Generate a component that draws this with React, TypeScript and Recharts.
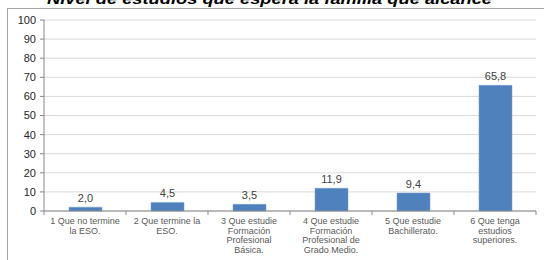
import React from "react";
import { BarChart, Bar, XAxis, YAxis, CartesianGrid, LabelList } from "recharts";

const categoryLines: string[][] = [
  ["1 Que no termine", "la ESO."],
  ["2 Que termine la", "ESO."],
  ["3 Que estudie", "Formación", "Profesional", "Básica."],
  ["4 Que estudie", "Formación", "Profesional de", "Grado Medio."],
  ["5 Que estudie", "Bachillerato."],
  ["6 Que tenga", "estudios", "superiores."],
];
const values: number[] = [2.0, 4.5, 3.5, 11.9, 9.4, 65.8];
const yTicks: number[] = [0, 10, 20, 30, 40, 50, 60, 70, 80, 90, 100];
const title = "Nivel de estudios que espera la familia que alcance";

const data = categoryLines.map((lines, i) => ({
  name: lines.join(" "),
  idx: i,
  value: values[i],
}));

const XTick = (props: any) => {
  const { x, y, index, width, visibleTicksCount } = props;
  const bw = width / visibleTicksCount;
  const lines = categoryLines[index] || [];
  return (
    <g>
      <line x1={x + bw / 2} x2={x + bw / 2} y1={y - 8} y2={y - 4} stroke="#868686" />
      {index === 0 && (
        <line x1={x - bw / 2} x2={x - bw / 2} y1={y - 8} y2={y - 4} stroke="#868686" />
      )}
      <text x={x} y={y} textAnchor="middle" fontSize={9} fill="#595959" fontFamily="Arial, 'Liberation Sans', sans-serif">
        {lines.map((l, k) => (
          <tspan key={k} x={x} dy={k === 0 ? 5 : 9.7}>
            {l}
          </tspan>
        ))}
      </text>
    </g>
  );
};

export default function App() {
  return (
    <div style={{ position: "absolute", left: 0, top: 0, width: 544, height: 260, overflow: "hidden", background: "#fff" }}>
      <div
        style={{
          position: "absolute",
          left: 7,
          top: 8,
          width: 620,
          height: 320,
          border: "1px solid #a6a6a6",
          boxSizing: "border-box",
        }}
      />
      <svg style={{ position: "absolute", left: 0, top: 0 }} width={544} height={12}>
        <text
          x={47}
          y={3.5}
          fontSize={15}
          fontWeight="bold"
          fontStyle="italic"
          fill="#000"
          fontFamily="'Liberation Sans', Arial, sans-serif"
          textLength={445}
          lengthAdjust="spacingAndGlyphs"
        >
          {title}
        </text>
      </svg>
      <div style={{ position: "absolute", left: 0, top: 0 }}>
        <BarChart
          width={544}
          height={260}
          data={data}
          margin={{ top: 20, right: 8, left: 0, bottom: 0 }}
          barCategoryGap="30%"
        >
          <CartesianGrid vertical={false} stroke="#d9d9d9" />
          <XAxis
            dataKey="name"
            height={49}
            interval={0}
            axisLine={{ stroke: "#868686" }}
            tickLine={false}
            tick={<XTick />}
          />
          <YAxis
            width={44}
            domain={[0, 100]}
            ticks={yTicks}
            interval={0}
            axisLine={{ stroke: "#868686" }}
            tickLine={{ stroke: "#868686" }}
            tickSize={4}
            tickMargin={4}
            tick={{ fontSize: 11, fill: "#262626", fontFamily: "Arial, 'Liberation Sans', sans-serif" }}
          />
          <Bar dataKey="value" fill="#4f81bd" stroke="#7a9fcf" strokeWidth={0.5} isAnimationActive={false} barSize={33}>
            <LabelList
              dataKey="value"
              position="top"
              offset={5}
              formatter={(v: any) => Number(v).toFixed(1).replace(".", ",")}
              style={{ fontSize: 11, fill: "#404040", fontFamily: "Arial, 'Liberation Sans', sans-serif" }}
            />
          </Bar>
        </BarChart>
      </div>
    </div>
  );
}
